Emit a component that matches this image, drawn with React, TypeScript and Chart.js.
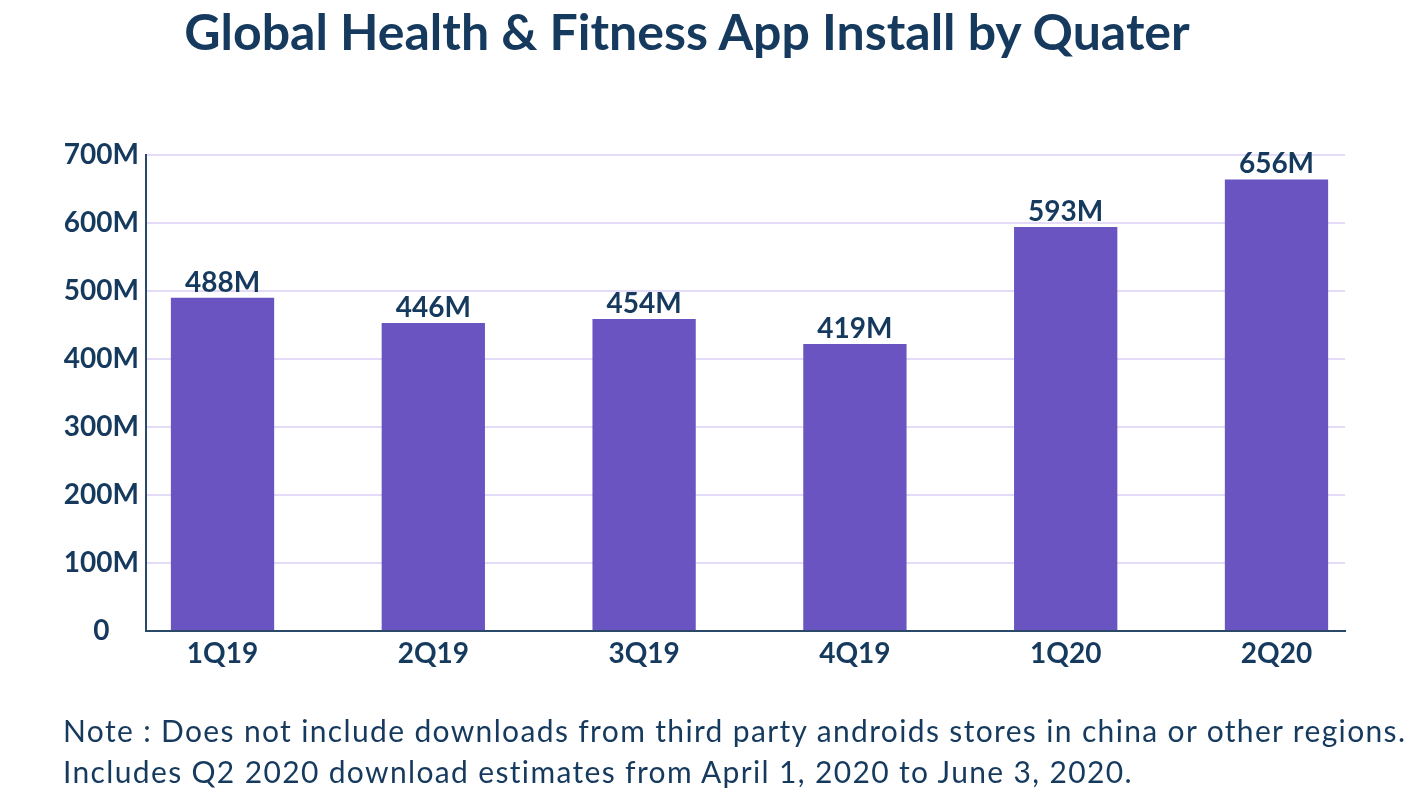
import React, { useEffect, useRef } from "react";
import { Chart, registerables } from "chart.js";

Chart.register(...registerables);

const quarters = ["1Q19", "2Q19", "3Q19", "4Q19", "1Q20", "2Q20"];
// bar heights as drawn (millions)
const barValues = [490, 453, 459, 422, 594, 664];
// printed labels above bars (millions)
const labelValues = [488, 446, 454, 419, 593, 656];
const yTicks = [0, 100, 200, 300, 400, 500, 600, 700];

const TITLE = "Global Health & Fitness App Install by Quater";
const NOTE_1 = "Note : Does not include downloads from third party androids stores in china or other regions.";
const NOTE_2 = "Includes Q2 2020 download estimates from April 1, 2020 to June 3, 2020.";

const NAVY = "#163a5e";
const BAR = "#6a54c2";
const GRID = "#e3dbf8";
const AXIS = "#2a4868";

export default function App() {
  const canvasRef = useRef<HTMLCanvasElement | null>(null);

  useEffect(() => {
    document.body.style.margin = "0";
    const canvas = canvasRef.current;
    if (!canvas) return;

    const labelPlugin = {
      id: "barLabels",
      afterDatasetsDraw(chart: any) {
        const ctx = chart.ctx;
        const meta = chart.getDatasetMeta(0);
        ctx.save();
        ctx.font = "bold 28px Lato";
        ctx.fillStyle = NAVY;
        ctx.textAlign = "center";
        ctx.textBaseline = "alphabetic";
        meta.data.forEach((el: any, i: number) => {
          ctx.fillText(labelValues[i] + "M", el.x, el.y - 6);
        });
        ctx.restore();
      },
    };

    const chart = new Chart(canvas, {
      type: "bar",
      data: {
        datasets: [
          {
            data: barValues.map((v, i) => ({ x: i, y: v })),
            backgroundColor: BAR,
            borderWidth: 0,
            barPercentage: 0.49,
            categoryPercentage: 1,
          },
        ],
      },
      options: {
        responsive: false,
        animation: false,
        devicePixelRatio: 1,
        layout: { padding: { left: 0, top: 155, right: 74, bottom: 105 } },
        plugins: {
          legend: { display: false },
          tooltip: { enabled: false },
          title: { display: false },
        },
        scales: {
          x: {
            type: "linear",
            offset: false,
            min: -0.363,
            max: 5.325,
            afterBuildTicks: (scale: any) => {
              scale.ticks = quarters.map((_, i) => ({ value: i }));
            },
            afterFit: (scale: any) => {
              scale.height = 60;
            },
            grid: { display: false, drawTicks: false },
            border: { display: true, color: AXIS, width: 2 },
            ticks: {
              autoSkip: false,
              maxRotation: 0,
              padding: 6,
              color: NAVY,
              font: { family: "Lato", weight: "bold", size: 28 },
              callback: (v: any) => quarters[Math.round(Number(v))] ?? "",
            },
          },
          y: {
            min: 0,
            max: 700,
            afterBuildTicks: (scale: any) => {
              scale.ticks = yTicks.map((v) => ({ value: v }));
            },
            afterFit: (scale: any) => {
              scale.width = 146;
            },
            grid: { color: GRID, lineWidth: 2, drawTicks: false },
            border: { display: true, color: AXIS, width: 2 },
            ticks: {
              padding: 7,
              crossAlign: "center",
              color: NAVY,
              font: { family: "Lato", weight: "bold", size: 28 },
              callback: (v: any) => (Number(v) === 0 ? "0" : v + "M"),
            },
          },
        },
      },
      plugins: [labelPlugin],
    } as any);

    return () => chart.destroy();
  }, []);

  return (
    <div style={{ position: "relative", width: 1419, height: 796, background: "#fff", overflow: "hidden" }}>
      <canvas ref={canvasRef} width={1419} height={796} style={{ position: "absolute", left: 0, top: 0, width: 1419, height: 796 }} />
      <div
        style={{
          position: "absolute",
          left: 0,
          top: 6,
          width: 1374,
          textAlign: "center",
          fontFamily: "Lato",
          fontWeight: 700,
          fontSize: 50,
          lineHeight: 1,
          color: NAVY,
          whiteSpace: "nowrap",
        }}
      >
        {TITLE}
      </div>
      <div
        style={{
          position: "absolute",
          left: 63,
          top: 710,
          fontFamily: "Lato",
          fontWeight: 400,
          fontSize: 30,
          letterSpacing: "1.35px",
          lineHeight: "41px",
          color: NAVY,
          whiteSpace: "nowrap",
        }}
      >
        <div>{NOTE_1}</div>
        <div>{NOTE_2}</div>
      </div>
    </div>
  );
}
